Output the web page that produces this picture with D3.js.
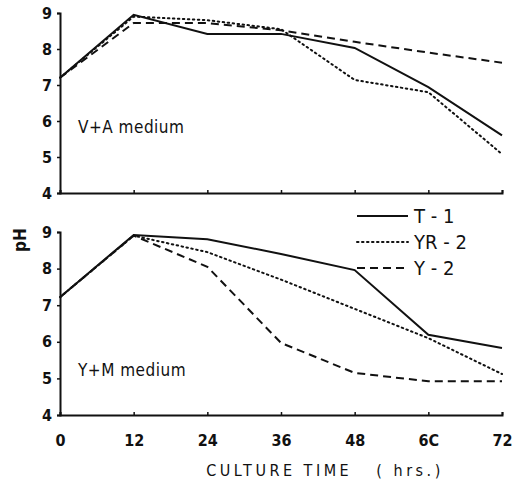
<!DOCTYPE html>
<html>
<head>
<meta charset="utf-8">
<script src="https://cdnjs.cloudflare.com/ajax/libs/d3/7.8.5/d3.min.js"></script>
<style>
  body { margin: 0; background: #fff; }
  svg text { font-family: "DejaVu Sans Condensed", "DejaVu Sans", sans-serif; fill: #111; }
</style>
</head>
<body>
<svg id="chart"></svg>
<script>
// culture time (hrs.)
const hours = [0, 12, 24, 36, 48, 60, 72];
const yTicks = [4, 5, 6, 7, 8, 9];
const xTickLabels = ["0", "12", "24", "36", "48", "6C", "72"];

// V+A medium
const vaT1 = [7.2, 8.95, 8.42, 8.42, 8.03, 6.94, 5.6];
const vaYR2 = [7.2, 8.9, 8.8, 8.55, 7.14, 6.8, 5.08];
const vaY2 = [7.2, 8.72, 8.72, 8.52, 8.2, 7.9, 7.62];

// Y+M medium
const ymT1 = [7.22, 8.92, 8.8, 8.4, 7.96, 6.19, 5.83];
const ymYR2 = [7.22, 8.9, 8.45, 7.7, 6.9, 6.1, 5.12];
const ymY2 = [7.22, 8.9, 8.05, 5.97, 5.15, 4.92, 4.92];

const seriesNames = ["T - 1", "YR - 2", "Y - 2"];
const dashes = [null, "1.5,3.5", "8,5"];

const W = 521, H = 487;
const svg = d3.select("#chart").attr("width", W).attr("height", H);

const x = d3.scaleLinear().domain([0, 72]).range([60, 502]);

const panels = [
  { name: "V+A medium", data: [vaT1, vaYR2, vaY2], top: 13, bottom: 193, labelY: 133 },
  { name: "Y+M medium", data: [ymT1, ymYR2, ymY2], top: 232, bottom: 415, labelY: 376 }
];

const line = d3.line().x((d, i) => x(hours[i]));

panels.forEach((p, pi) => {
  const y = d3.scaleLinear().domain([4, 9]).range([p.bottom, p.top]);
  const g = svg.append("g");

  // y axis
  const ya = g.append("g").attr("transform", `translate(${x(0)},0)`)
    .call(d3.axisLeft(y).tickValues(yTicks).tickSize(3).tickPadding(5).tickFormat(d3.format("d")));
  ya.select(".domain").attr("stroke", "#111").attr("stroke-width", 2);
  ya.selectAll(".tick line").attr("stroke", "#111").attr("stroke-width", 1.5);
  ya.selectAll("text").style("font-size", "16px").style("font-weight", "bold").attr("font-family", null);

  // x axis
  const xa = g.append("g").attr("transform", `translate(0,${p.bottom})`)
    .call(d3.axisBottom(x).tickValues(hours).tickSize(-3).tickPadding(20)
      .tickFormat((d, i) => pi === 1 ? xTickLabels[i] : ""));
  xa.select(".domain").attr("stroke", "#111").attr("stroke-width", 2);
  xa.selectAll(".tick line").attr("stroke", "#111").attr("stroke-width", 1.5);
  xa.selectAll("text").style("font-size", "16px").style("font-weight", "bold").attr("font-family", null);

  line.y(d => y(d));
  p.data.forEach((s, si) => {
    g.append("path")
      .datum(s)
      .attr("d", line)
      .attr("fill", "none")
      .attr("stroke", "#111")
      .attr("stroke-width", 2)
      .attr("stroke-linecap", si === 1 ? "round" : "butt")
      .attr("stroke-dasharray", dashes[si]);
  });

  g.append("text")
    .attr("x", 78).attr("y", p.labelY)
    .style("font-size", "17px")
    .style("letter-spacing", "0.5px")
    .text(p.name);
});

// legend
const legend = svg.append("g");
seriesNames.forEach((n, i) => {
  const ly = 216 + i * 26;
  legend.append("line")
    .attr("x1", 357).attr("x2", 408).attr("y1", ly).attr("y2", ly)
    .attr("stroke", "#111").attr("stroke-width", 2)
    .attr("stroke-linecap", i === 1 ? "round" : "butt")
    .attr("stroke-dasharray", dashes[i]);
  legend.append("text")
    .attr("x", 414).attr("y", ly + 7)
    .style("font-size", "20px")
    .text(n);
});

// axis titles
svg.append("text")
  .attr("transform", "translate(26,240) rotate(-90)")
  .attr("text-anchor", "middle")
  .style("font-size", "17px")
  .style("font-weight", "bold")
  .text("pH");

svg.append("text")
  .attr("x", 325).attr("y", 476)
  .attr("text-anchor", "middle")
  .style("font-size", "16px")
  .style("letter-spacing", "3.5px")
  .style("white-space", "pre")
  .text("CULTURE TIME   ( hrs.)");
</script>
</body>
</html>
